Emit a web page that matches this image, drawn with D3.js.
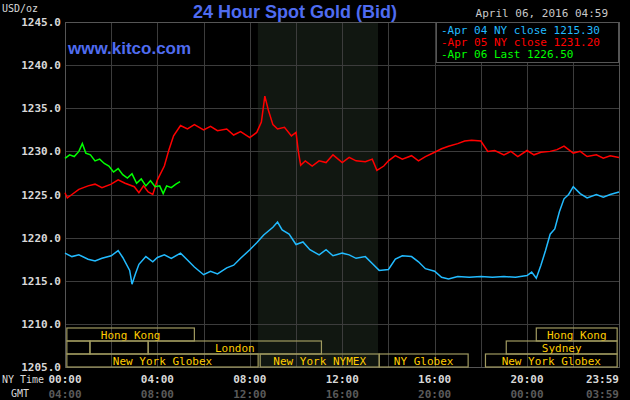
<!DOCTYPE html>
<html><head><meta charset="utf-8">
<script src="https://cdn.jsdelivr.net/npm/d3@7"></script>
<style>body{margin:0;background:#000}svg{display:block}text{font-family:"DejaVu Sans Mono",monospace}text.sans{font-family:"Liberation Sans",Arial,sans-serif}</style>
</head><body><svg id="chart" width="630" height="400"></svg>
<script>
// hours since 00:00 NY, price
const blueH = [0,0.3,0.6,1,1.3,1.6,2,2.3,2.5,2.8,2.9,3.05,3.2,3.5,3.8,4,4.3,4.6,5,5.3,5.6,6,6.3,6.6,7,7.3,7.6,8,8.3,8.6,9,9.2,9.4,9.7,10,10.3,10.6,11,11.3,11.6,12,12.3,12.6,13,13.3,13.6,14,14.3,14.6,15,15.3,15.6,16,16.3,16.6,17,17.5,18,18.5,19,19.5,20,20.2,20.4,20.6,20.8,21,21.2,21.4,21.6,21.8,22,22.3,22.6,23,23.3,23.6,23.98];
const blueV = [1218.2,1217.8,1218.0,1217.5,1217.3,1217.6,1217.9,1218.5,1217.7,1216.2,1214.6,1215.8,1216.9,1217.8,1217.2,1217.7,1218.0,1217.6,1218.2,1217.4,1216.6,1215.7,1216.1,1215.8,1216.5,1216.8,1217.6,1218.6,1219.4,1220.3,1221.2,1221.8,1220.9,1220.4,1219.2,1219.5,1218.6,1218.0,1218.6,1217.9,1218.2,1218.0,1217.6,1217.8,1217.0,1216.2,1216.3,1217.5,1217.9,1217.8,1217.2,1216.4,1216.1,1215.4,1215.2,1215.5,1215.4,1215.5,1215.4,1215.5,1215.4,1215.6,1216.0,1215.3,1216.8,1218.5,1220.4,1221.0,1223.0,1224.5,1225.0,1225.9,1225.1,1224.6,1225.0,1224.7,1225.0,1225.3];
const redH = [0,0.1,0.3,0.6,1,1.3,1.6,2,2.3,2.6,3,3.2,3.4,3.6,3.8,4,4.3,4.5,4.7,5,5.3,5.6,6,6.3,6.6,7,7.3,7.6,8,8.3,8.5,8.65,8.8,9,9.2,9.5,9.8,10,10.1,10.2,10.4,10.7,11,11.3,11.6,12,12.3,12.6,13,13.3,13.5,13.8,14,14.3,14.6,15,15.3,15.6,16,16.3,16.6,17,17.3,17.6,18,18.3,18.6,19,19.3,19.6,20,20.3,20.6,21,21.3,21.6,22,22.3,22.6,23,23.3,23.6,23.98];
const redV = [1225.2,1224.6,1225.0,1225.6,1226.0,1226.2,1225.8,1226.2,1226.7,1226.3,1225.9,1225.2,1226.0,1225.3,1225.0,1226.7,1228.3,1230.2,1231.8,1233.0,1232.6,1233.1,1232.5,1232.9,1232.4,1232.6,1231.9,1232.3,1231.6,1232.2,1233.4,1236.4,1234.8,1233.1,1232.6,1232.8,1231.8,1232.2,1230.0,1228.4,1228.9,1228.3,1228.9,1228.7,1229.6,1228.7,1229.3,1228.9,1228.8,1229.1,1227.8,1228.3,1228.9,1229.5,1229.1,1229.5,1228.9,1229.4,1229.9,1230.3,1230.6,1230.9,1231.2,1231.3,1231.2,1230.0,1230.1,1229.6,1230.0,1229.4,1230.1,1229.6,1229.9,1230.0,1230.2,1230.6,1229.8,1230.0,1229.4,1229.6,1229.2,1229.5,1229.3];
const greenH = [0,0.2,0.4,0.6,0.75,0.9,1.1,1.3,1.5,1.7,1.9,2.1,2.3,2.5,2.7,2.9,3.1,3.3,3.5,3.7,3.9,4.1,4.25,4.4,4.6,4.8,4.98];
const greenV = [1229.2,1229.6,1229.4,1230.0,1230.9,1229.8,1229.6,1228.9,1229.1,1228.6,1228.3,1227.6,1228.0,1227.3,1226.9,1227.4,1226.3,1226.8,1226.0,1226.6,1225.9,1226.0,1225.1,1226.0,1225.8,1226.2,1226.5];
const yTicks = [1205,1210,1215,1220,1225,1230,1235,1240,1245];
const nyLabels = ["00:00","04:00","08:00","12:00","16:00","20:00","23:59"];
const gmtLabels = ["04:00","08:00","12:00","16:00","20:00","00:00","03:59"];
const labelHours = [0,4,8,12,16,20,23.98];
const legendItems = ["Apr 04 NY close 1215.30","Apr 05 NY close 1231.20","Apr 06 Last 1226.50"];
const colors = ["#22bbff","#ff0000","#00ff00"];
// sessions: row, start hour, end hour, label
const sessions = [
  [0,0.08,5.6,"Hong Kong"],[0,20.4,23.9,"Hong Kong"],
  [1,0.08,1.08,""],[1,1.08,3.6,""],[1,3.6,11.1,"London"],[1,19.1,23.9,"Sydney"],
  [2,0.08,8.36,"New York Globex"],[2,8.45,13.6,"New York NYMEX"],[2,13.6,17.45,"NY Globex"],[2,18.2,23.9,"New York Globex"]
];

const svg = d3.select("#chart");
const L = 65, R = 619, T = 22, B = 367;
const x = d3.scaleLinear().domain([0, 23.98]).range([L, R]);
const y = d3.scaleLinear().domain([1205, 1245]).range([B, T]);

svg.append("rect").attr("width",630).attr("height",400).attr("fill","#000");
svg.append("rect").attr("x",x(8.35)).attr("y",T).attr("width",x(13.55)-x(8.35)).attr("height",B-T).attr("fill","#111711");

const grid = svg.append("g").attr("stroke","#3c3c3c").attr("stroke-width",1);
d3.range(2,24,2).forEach(h => grid.append("line").attr("x1",Math.round(x(h))+0.5).attr("x2",Math.round(x(h))+0.5).attr("y1",T).attr("y2",B));
yTicks.forEach(v => grid.append("line").attr("x1",L).attr("x2",R).attr("y1",Math.round(y(v))+0.5).attr("y2",Math.round(y(v))+0.5));
svg.append("rect").attr("x",L+0.5).attr("y",T+0.5).attr("width",R-L).attr("height",B-T).attr("fill","none").attr("stroke","#555");

// y labels
svg.append("g").selectAll("text").data(yTicks).join("text")
  .attr("x",L-4).attr("y",d=>y(d)+4).attr("text-anchor","end")
  .attr("fill","#d8d8d8").attr("font-size",11).attr("font-weight","bold").text(d=>d.toFixed(1));
svg.append("text").attr("x",2).attr("y",12).attr("fill","#d8d8d8").attr("font-size",10).text("USD/oz");

// x labels
svg.append("g").selectAll("text").data(nyLabels).join("text")
  .attr("x",(d,i)=>x(labelHours[i])).attr("y",383).attr("text-anchor",(d,i)=>i==6?"end":"middle")
  .attr("fill","#d8d8d8").attr("font-size",11).attr("font-weight","bold").text(d=>d);
svg.append("g").selectAll("text").data(gmtLabels).join("text")
  .attr("x",(d,i)=>x(labelHours[i])).attr("y",398).attr("text-anchor",(d,i)=>i==6?"end":"middle")
  .attr("fill","#5a5a5a").attr("font-size",11).attr("font-weight","bold").text(d=>d);
svg.append("text").attr("x",2).attr("y",383).attr("fill","#d8d8d8").attr("font-size",10).text("NY Time");
svg.append("text").attr("x",11).attr("y",397).attr("fill","#d8d8d8").attr("font-size",10).text("GMT");

// sessions
const rowTop = [328,341,354], rowH = 13;
sessions.forEach(s => {
  svg.append("rect").attr("x",x(s[1])).attr("y",rowTop[s[0]]).attr("width",x(s[2])-x(s[1])).attr("height",rowH)
    .attr("fill","none").attr("stroke","#a09a60").attr("stroke-width",1.2);
  if (s[3]) svg.append("text").attr("x",(x(s[1])+x(s[2]))/2).attr("y",rowTop[s[0]]+11).attr("text-anchor","middle")
    .attr("fill","#ffcc00").attr("font-size",11).text(s[3]);
});

// lines
const line = d3.line().x(d=>x(d[0])).y(d=>y(d[1]));
[[blueH,blueV],[redH,redV],[greenH,greenV]].forEach((s,i) => {
  svg.append("path").datum(d3.zip(s[0],s[1])).attr("d",line).attr("fill","none")
    .attr("stroke",colors[i]).attr("stroke-width",1.5);
});

// legend
svg.append("rect").attr("x",436.5).attr("y",22.5).attr("width",182).attr("height",40).attr("fill","#000").attr("stroke","#555");
legendItems.forEach((t,i) => {
  svg.append("text").attr("x",441).attr("y",34+i*12).attr("fill",colors[i]).attr("font-size",11).text("-" + t);
});

svg.append("text").attr("class","sans").attr("x",295).attr("y",18).attr("text-anchor","middle").attr("fill","#4f6cf0")
  .attr("font-size",18).attr("font-weight","bold").text("24 Hour Spot Gold (Bid)");
svg.append("text").attr("class","sans").attr("x",68).attr("y",54).attr("fill","#4f6cf0")
  .attr("font-size",17).attr("font-weight","bold").text("www.kitco.com");
svg.append("text").attr("x",608).attr("y",17).attr("text-anchor","end").attr("fill","#c8c8c8").attr("font-size",11).text("April 06, 2016 04:59");
</script></body></html>
